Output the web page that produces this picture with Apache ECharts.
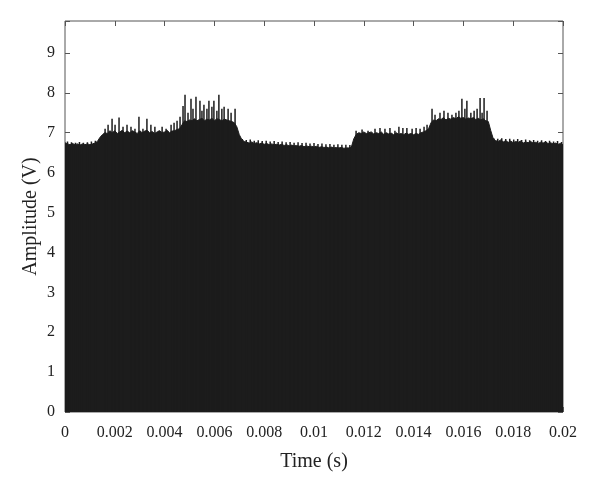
<!DOCTYPE html>
<html>
<head>
<meta charset="utf-8">
<script src="https://cdn.jsdelivr.net/npm/echarts@6/dist/echarts.min.js"></script>
<style>html,body{margin:0;padding:0;background:#fff}#c{width:600px;height:488px}</style>
</head>
<body>
<div id="c"></div>
<script>
const timeStep = 0.0001;
const envelope = [
  6.75,6.72,6.70,6.73,6.70,6.72,6.69,6.72,6.70,6.72,6.70,6.72,6.74,6.78,
  6.88,6.95,7.00,6.98,7.05,7.00,7.05,6.98,7.02,7.06,7.00,7.04,7.00,7.05,7.02,6.98,7.05,7.00,7.04,7.06,7.00,7.03,6.98,7.02,7.05,7.00,7.02,7.06,7.00,7.04,7.05,7.08,7.10,
  7.20,7.30,7.28,7.32,7.30,7.35,7.30,7.33,7.36,7.30,7.34,7.32,7.36,7.30,7.35,7.33,7.30,7.34,7.32,7.30,7.28,7.25,
  7.15,6.95,6.83,6.78,
  6.76,6.74,6.77,6.73,6.75,6.72,6.74,6.71,6.73,6.70,6.72,6.70,6.71,6.69,6.71,6.68,6.70,6.67,6.69,6.67,6.68,6.66,6.68,6.65,6.67,6.65,6.66,6.64,6.66,6.63,6.65,6.63,6.64,6.62,6.64,6.62,6.63,6.62,6.63,6.61,6.62,6.62,6.64,
  6.85,6.96,7.00,6.98,7.02,6.98,7.00,7.02,6.97,7.00,6.98,7.02,6.96,7.00,6.97,6.99,6.95,7.00,6.96,6.98,6.95,6.99,6.96,6.98,6.95,6.98,6.96,7.00,7.02,7.05,7.10,
  7.25,7.32,7.30,7.35,7.33,7.38,7.32,7.36,7.34,7.38,7.35,7.40,7.36,7.38,7.34,7.37,7.35,7.38,7.33,7.36,7.32,7.35,7.30,7.28,
  7.05,6.85,6.80,6.78,6.82,6.77,6.80,6.76,6.79,6.75,6.78,6.76,6.79,6.74,6.77,6.75,6.78,6.74,6.76,6.73,6.76,6.74,6.77,6.73,6.75,6.72,6.74,6.71,6.73,6.70
];
// narrow peaks on top of the envelope
const spikeTimes = [
  0.00010,0.00026,0.00042,0.00058,0.00074,0.00090,0.00106,0.00122,
  0.00161,0.00173,0.00189,0.00201,0.00217,0.00233,0.00249,0.00265,0.00281,0.00297,0.00313,0.00329,0.00345,0.00361,0.00378,0.00390,0.00406,0.00426,0.00438,0.00450,0.00462,
  0.00474,0.00482,0.00494,0.00506,0.00514,0.00526,0.00542,0.00550,0.00558,0.00570,0.00578,0.00590,0.00598,0.00610,0.00618,0.00630,0.00639,0.00655,0.00667,0.00683,
  0.00712,0.00728,0.00744,0.00760,0.00776,0.00792,0.00808,0.00824,0.00840,0.00856,0.00872,0.00888,0.00904,0.00920,0.00936,0.00952,0.00968,0.00984,0.01000,0.01016,0.01032,0.01048,0.01064,0.01080,0.01096,0.01112,0.01128,0.01144,
  0.01169,0.01193,0.01217,0.01245,0.01265,0.01285,0.01305,0.01325,0.01341,0.01357,0.01373,0.01394,0.01410,0.01426,0.01442,0.01454,
  0.01474,0.01486,0.01506,0.01522,0.01538,0.01554,0.01570,0.01582,0.01594,0.01606,0.01614,0.01630,0.01643,0.01655,0.01667,0.01675,0.01683,0.01695,
  0.01722,0.01738,0.01754,0.01770,0.01786,0.01802,0.01818,0.01834,0.01850,0.01866,0.01882,0.01898,0.01914,0.01930,0.01946,0.01962,0.01978,0.01994
];
const spikeValues = [
  6.78,6.76,6.75,6.77,6.75,6.76,6.78,6.80,
  7.10,7.20,7.35,7.20,7.38,7.15,7.20,7.15,7.10,7.40,7.10,7.35,7.20,7.15,7.05,7.15,7.10,7.20,7.25,7.30,7.40,
  7.67,7.95,7.50,7.85,7.60,7.90,7.80,7.55,7.70,7.60,7.80,7.65,7.80,7.55,7.95,7.60,7.65,7.60,7.50,7.60,
  6.84,6.82,6.83,6.80,6.81,6.79,6.80,6.78,6.79,6.77,6.78,6.76,6.77,6.75,6.76,6.74,6.75,6.73,6.74,6.72,6.73,6.71,6.72,6.70,6.71,6.70,6.70,6.69,
  7.05,7.08,7.05,7.10,7.12,7.10,7.12,7.05,7.15,7.12,7.12,7.10,7.12,7.10,7.15,7.20,
  7.60,7.45,7.50,7.55,7.50,7.45,7.50,7.55,7.85,7.60,7.80,7.50,7.55,7.60,7.87,7.50,7.87,7.55,
  6.86,6.85,6.86,6.84,6.85,6.83,6.84,6.82,6.83,6.81,6.82,6.80,6.81,6.79,6.80,6.78,6.79,6.77
];
const xTickLabels = ['0','0.002','0.004','0.006','0.008','0.01','0.012','0.014','0.016','0.018','0.02'];
const yTickLabels = ['0','1','2','3','4','5','6','7','8','9'];

const envData = envelope.map((v, i) => [+(i * timeStep).toFixed(5), v]);
const spikeData = spikeTimes.map((t, i) => [t, spikeValues[i]]);

const font = 'Liberation Serif';
const fill = '#1c1c1c';
const frame = '#555';
const tick = {show: true, inside: true, length: 5, lineStyle: {color: frame}};
const chart = echarts.init(document.getElementById('c'), null, {renderer: 'canvas'});
chart.setOption({
  animation: false,
  grid: {left: 65, right: 37, top: 21, bottom: 76, show: true, borderColor: frame, borderWidth: 1},
  xAxis: [{
    type: 'value', position: 'bottom', min: 0, max: 0.02, interval: 0.002,
    name: 'Time (s)', nameLocation: 'middle', nameGap: 40, nameMoveOverlap: false,
    nameTextStyle: {fontFamily: font, fontSize: 20, color: '#222'},
    axisLine: {show: false, onZero: false},
    axisTick: tick,
    splitLine: {show: false},
    axisLabel: {margin: 13, fontFamily: font, fontSize: 16, color: '#222',
      formatter: v => xTickLabels[Math.round(v / 0.002)] ?? ''}
  }, {
    type: 'value', position: 'top', min: 0, max: 0.02, interval: 0.002,
    axisLine: {show: false, onZero: false},
    axisTick: tick,
    axisLabel: {show: false}, splitLine: {show: false}
  }],
  yAxis: [{
    type: 'value', position: 'left', min: 0, max: 9.8, interval: 1,
    name: 'Amplitude (V)', nameLocation: 'middle', nameGap: 24, nameMoveOverlap: false,
    nameTextStyle: {fontFamily: font, fontSize: 20, color: '#222'},
    axisLine: {show: false, onZero: false},
    axisTick: tick,
    splitLine: {show: false},
    axisLabel: {margin: 10, fontFamily: font, fontSize: 16, color: '#222',
      formatter: v => (Math.abs(v - Math.round(v)) < 1e-6 ? (yTickLabels[Math.round(v)] ?? '') : '')}
  }, {
    type: 'value', position: 'right', min: 0, max: 9.8, interval: 1,
    axisLine: {show: false, onZero: false},
    axisTick: tick,
    axisLabel: {show: false}, splitLine: {show: false}
  }],
  series: [{
    type: 'line', data: envData, symbol: 'none', xAxisIndex: 0, yAxisIndex: 0,
    lineStyle: {color: fill, width: 1}, areaStyle: {color: fill, opacity: 1}, z: 2
  }, {
    type: 'bar', data: spikeData, xAxisIndex: 0, yAxisIndex: 0,
    barWidth: 1.5, itemStyle: {color: fill}, z: 3
  }]
});
</script>
</body>
</html>
